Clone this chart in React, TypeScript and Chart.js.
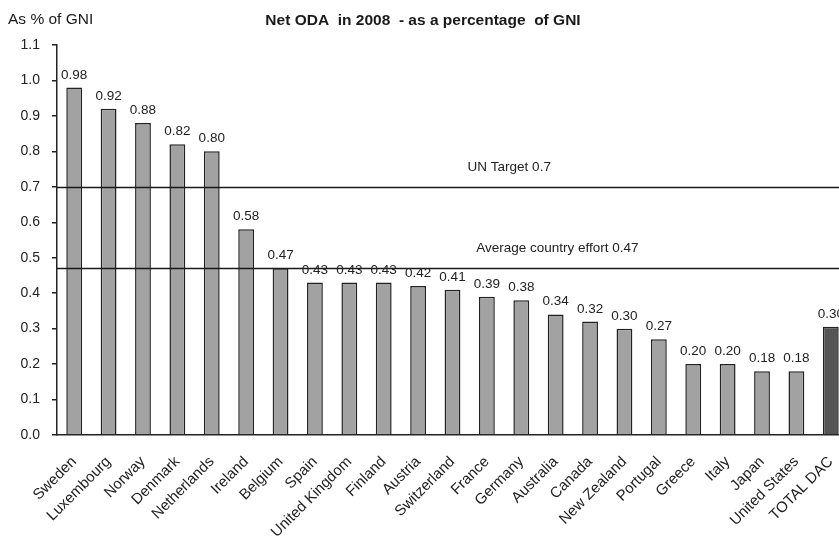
import React, { useEffect, useRef } from "react";
import { Chart, registerables } from "chart.js";

Chart.register(...registerables);

const categories = [
  "Sweden", "Luxembourg", "Norway", "Denmark", "Netherlands", "Ireland", "Belgium",
  "Spain", "United Kingdom", "Finland", "Austria", "Switzerland", "France", "Germany",
  "Australia", "Canada", "New Zealand", "Portugal", "Greece", "Italy", "Japan",
  "United States", "TOTAL DAC",
];
const values = [
  0.98, 0.92, 0.88, 0.82, 0.8, 0.58, 0.47, 0.43, 0.43, 0.43, 0.42, 0.41, 0.39, 0.38,
  0.34, 0.32, 0.3, 0.27, 0.2, 0.2, 0.18, 0.18, 0.305,
];
const valueLabels = [
  "0.98", "0.92", "0.88", "0.82", "0.80", "0.58", "0.47", "0.43", "0.43", "0.43", "0.42",
  "0.41", "0.39", "0.38", "0.34", "0.32", "0.30", "0.27", "0.20", "0.20", "0.18", "0.18", "0.30",
];
const refLines = [
  { value: 0.7, label: "UN Target 0.7" },
  { value: 0.47, label: "Average country effort 0.47" },
];
const yMin = 0;
const yMax = 1.1;
const yStep = 0.1;

const FONT = "Arial, 'Liberation Sans', sans-serif";

export default function App() {
  const ref = useRef<HTMLCanvasElement>(null);

  useEffect(() => {
    if (!ref.current) return;
    const overlay = {
      id: "overlay",
      afterDatasetsDraw(chart: any) {
        const { ctx, chartArea, scales } = chart;
        const y = scales.y;
        const x = scales.x;
        ctx.save();
        const labelPos = [12.65, 14.05];
        refLines.forEach((r, i) => {
          const py = Math.round(y.getPixelForValue(r.value)) + 0.5;
          ctx.strokeStyle = "#1a1a1a";
          ctx.lineWidth = 1.5;
          ctx.beginPath();
          ctx.moveTo(chartArea.left, py);
          ctx.lineTo(chartArea.right, py);
          ctx.stroke();
          ctx.fillStyle = "#222";
          ctx.font = `13.5px ${FONT}`;
          ctx.textAlign = "center";
          ctx.textBaseline = "middle";
          ctx.fillText(r.label, x.getPixelForValue(labelPos[i]), py - 20);
        });
        const meta = chart.getDatasetMeta(0);
        ctx.font = `13.5px ${FONT}`;
        ctx.fillStyle = "#222";
        ctx.textAlign = "center";
        ctx.textBaseline = "alphabetic";
        meta.data.forEach((bar: any, i: number) => {
          ctx.fillText(valueLabels[i], bar.x, bar.y - 9);
        });
        ctx.restore();
      },
      afterDraw(chart: any) {
        const { ctx } = chart;
        ctx.save();
        ctx.fillStyle = "#1a1a1a";
        ctx.font = `bold 15.5px ${FONT}`;
        ctx.textAlign = "center";
        ctx.textBaseline = "middle";
        ctx.fillText("Net ODA  in 2008  - as a percentage  of GNI", 423, 21);
        ctx.font = `15.5px ${FONT}`;
        ctx.textAlign = "left";
        ctx.fillText("As % of GNI", 8, 20);
        ctx.restore();
      },
    };

    const chart = new Chart(ref.current, {
      type: "bar",
      data: {
        labels: categories,
        datasets: [
          {
            data: values,
            backgroundColor: (c: any) => (c.dataIndex === categories.length - 1 ? "#555555" : "#a2a2a2"),
            borderColor: "#222",
            borderWidth: 1.5,
            barPercentage: 0.46,
            categoryPercentage: 1,
          },
        ],
      },
      options: {
        animation: false,
        responsive: false,
        devicePixelRatio: 1,
        layout: { padding: { top: 45, right: 0, left: 0, bottom: 0 } },
        plugins: { legend: { display: false }, tooltip: { enabled: false }, title: { display: false } },
        scales: {
          x: {
            grid: { display: false },
            border: { display: true, color: "#222", width: 1.5 },
            ticks: {
              color: "#222",
              font: { family: FONT, size: 15 },
              maxRotation: 45,
              minRotation: 45,
              autoSkip: false,
              padding: 10,
            },
            afterFit(scale: any) {
              scale.height = 105;
              scale.paddingLeft = 0;
              scale.paddingRight = 0;
            },
          },
          y: {
            min: yMin,
            max: yMax,
            grid: { display: true, drawOnChartArea: false, tickLength: 5, color: "#222", lineWidth: 1.5 },
            border: { display: true, color: "#222", width: 1.5 },
            ticks: {
              stepSize: yStep,
              color: "#222",
              font: { family: FONT, size: 14 },
              padding: 12,
              callback: (v: any) => Number(v).toFixed(1),
            },
            afterFit(scale: any) {
              scale.width = 57;
            },
          },
        },
      },
      plugins: [overlay],
    });
    return () => chart.destroy();
  }, []);

  return (
    <div style={{ position: "fixed", left: 0, top: 0, width: 839, height: 540, overflow: "hidden", background: "#fff" }}>
      <canvas ref={ref} width={848} height={540} style={{ width: 848, height: 540, display: "block" }} />
    </div>
  );
}
